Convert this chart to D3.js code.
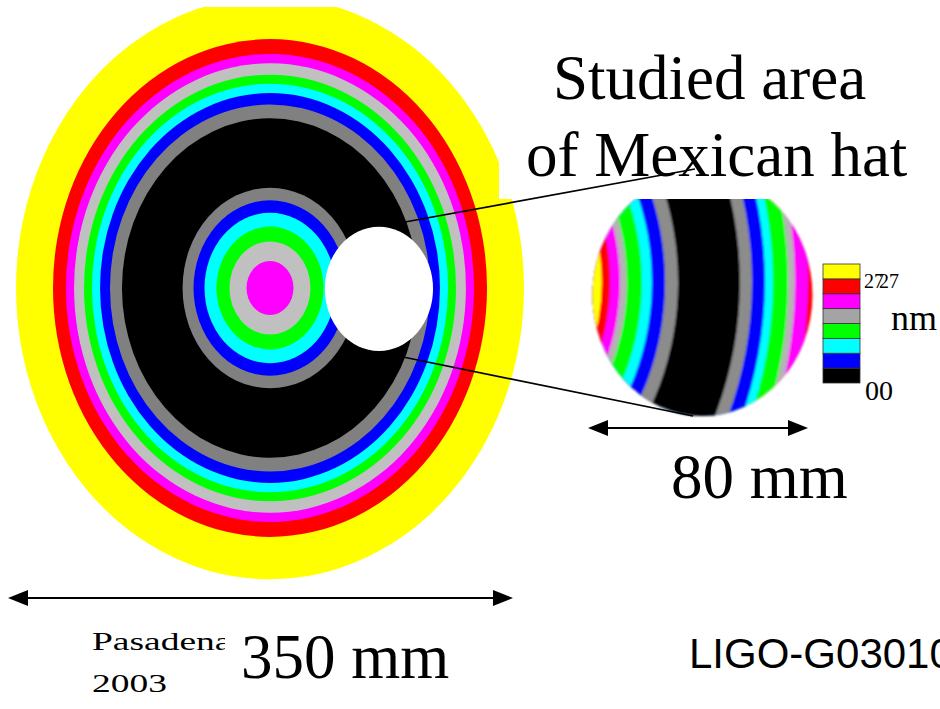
<!DOCTYPE html>
<html><head><meta charset="utf-8">
<script src="https://cdn.jsdelivr.net/npm/d3@7"></script>
<style>html,body{margin:0;padding:0;background:#fff;overflow:hidden}</style>
</head><body>
<svg id="chart" width="940" height="709"></svg>
<script>
// ---------- data ----------
// contour colours, lowest level to highest level (0 -> 27 nm)
const legendColors = ["#000000","#0000ff","#00ffff","#00ff00","#a4a4a4","#ff00ff","#ff0000","#ffff00"];
const legendLabels = ["00", "27"];
const unitLabel = "nm";

// main mirror map (350 mm), outer radius (mm) of each contour band, centre outward
const mainBandOuterMM = [16.3, 28.1, 37.1, 45.4, 53.0, 60.6, 102.6, 110.9, 117.8, 123.4, 128.9, 135.8, 141.4, 150.4, 176];
const mainBandColors  = ["#ff00ff","#c0c0c0","#00ff00","#00ffff","#0000ff","#808080","#000000","#808080","#0000ff","#00ffff","#00ff00","#c0c0c0","#ff00ff","#ff0000","#ffff00"];
const studiedCenterMM = [75.5, 0.5];
const studiedRadiusMM = 37.5;

// inset (80 mm studied area), band outer radii (mm) around the pattern centre
const insetPatternCenterMM = [-99.1, -4.3];
const insetBandOuterMM = [62.5, 65.5, 69.1, 71.6, 77.1, 80.7, 85.5, 90.2, 112.7, 117.1, 121.8, 124.7, 130.2, 132.7, 137.5, 170];
const insetBandColors  = ["#ffff00","#ff0000","#ff00ff","#b4b4b4","#00ff00","#00ffff","#0000ff","#8c8c8c","#000000","#8c8c8c","#0000ff","#00ffff","#00ff00","#b4b4b4","#ff00ff","#ff0000"];

const titleLines = ["Studied area", "of Mexican hat"];
const mainSizeLabel = "350 mm";
const insetSizeLabel = "80 mm";
const footerLeft = ["Pasadena", "2003"];
const footerRight = "LIGO-G030106-00-D";

// ---------- drawing ----------
const svg = d3.select("#chart");
const serif = "'Liberation Serif','Times New Roman',Times,serif";
const sans = "'Liberation Sans',Arial,Helvetica,sans-serif";

const mainX = d3.scaleLinear().domain([-175, 175]).range([17.5, 522.5]);
const mainY = d3.scaleLinear().domain([-175, 175]).range([-1.6, 577.6]);

const defs = svg.append("defs");
defs.append("filter").attr("id", "soft").attr("x", "-5%").attr("y", "-5%").attr("width", "110%").attr("height", "110%")
  .append("feGaussianBlur").attr("stdDeviation", 0.9);

// main map
const mainBands = mainBandOuterMM.map((r, i) => ({r, c: mainBandColors[i]})).sort((a, b) => b.r - a.r);
svg.append("g").selectAll("ellipse").data(mainBands).join("ellipse")
  .attr("cx", mainX(0)).attr("cy", mainY(0))
  .attr("rx", d => mainX(d.r) - mainX(0))
  .attr("ry", d => mainY(d.r) - mainY(0))
  .attr("fill", d => d.c);

// inset map
const insetX = d3.scaleLinear().domain([-40, 40]).range([592.5, 812.5]);
const insetY = d3.scaleLinear().domain([-40, 40]).range([174, 416]);
defs.append("clipPath").attr("id", "insetClip").append("ellipse")
  .attr("cx", insetX(0)).attr("cy", insetY(0))
  .attr("rx", insetX(40) - insetX(0)).attr("ry", insetY(40) - insetY(0));
const insetBands = insetBandOuterMM.map((r, i) => ({r, c: insetBandColors[i]})).sort((a, b) => b.r - a.r);
svg.append("g").attr("filter", "url(#soft)")
  .append("g").attr("clip-path", "url(#insetClip)")
  .selectAll("ellipse").data(insetBands).join("ellipse")
  .attr("cx", insetX(insetPatternCenterMM[0])).attr("cy", insetY(insetPatternCenterMM[1]))
  .attr("rx", d => insetX(insetPatternCenterMM[0] + d.r) - insetX(insetPatternCenterMM[0]))
  .attr("ry", d => insetY(insetPatternCenterMM[1] + d.r) - insetY(insetPatternCenterMM[1]))
  .attr("fill", d => d.c);

// white background boxes of the slide texts
svg.append("rect").attr("x", 0).attr("y", 0).attr("width", 499).attr("height", 7).attr("fill", "#fff");
svg.append("rect").attr("x", 499).attr("y", 0).attr("width", 441).attr("height", 199).attr("fill", "#fff");

// studied area hole
svg.append("ellipse")
  .attr("cx", mainX(studiedCenterMM[0])).attr("cy", mainY(studiedCenterMM[1]))
  .attr("rx", mainX(studiedRadiusMM) - mainX(0)).attr("ry", mainY(studiedRadiusMM) - mainY(0))
  .attr("fill", "#fff");

// connector lines
const connectors = [[[405, 222], [695, 169]], [[403, 357], [693, 416]]];
svg.append("g").selectAll("line").data(connectors).join("line")
  .attr("x1", d => d[0][0]).attr("y1", d => d[0][1]).attr("x2", d => d[1][0]).attr("y2", d => d[1][1])
  .attr("stroke", "#000").attr("stroke-width", 1.7);

// arrows
function arrow(x1, x2, y) {
  const hl = 20, hw = 8;
  const g = svg.append("g");
  g.append("line").attr("x1", x1 + hl - 2).attr("x2", x2 - hl + 2).attr("y1", y).attr("y2", y)
    .attr("stroke", "#000").attr("stroke-width", 2.2);
  g.append("path").attr("d", `M${x1},${y}L${x1 + hl},${y - hw}L${x1 + hl},${y + hw}Z`).attr("fill", "#000");
  g.append("path").attr("d", `M${x2},${y}L${x2 - hl},${y - hw}L${x2 - hl},${y + hw}Z`).attr("fill", "#000");
}
arrow(8, 513, 598);
arrow(588, 808, 428);

// texts
svg.append("text").attr("x", 553).attr("y", 99).attr("font-family", serif).attr("font-size", 63).text(titleLines[0]);
svg.append("text").attr("x", 526).attr("y", 176).attr("font-family", serif).attr("font-size", 63).text(titleLines[1]);
svg.append("text").attr("x", 671).attr("y", 498).attr("font-family", serif).attr("font-size", 63).text(insetSizeLabel);
svg.append("text").attr("x", 241).attr("y", 678).attr("font-family", serif).attr("font-size", 63).text(mainSizeLabel);

defs.append("clipPath").attr("id", "footClip").append("rect").attr("x", 0).attr("y", 600).attr("width", 225).attr("height", 109);
const foot = svg.append("g").attr("clip-path", "url(#footClip)");
foot.append("text").attr("transform", "translate(92,650) scale(1.5,1)").attr("font-family", serif).attr("font-size", 25).text(footerLeft[0]);
foot.append("text").attr("transform", "translate(92,692) scale(1.5,1)").attr("font-family", serif).attr("font-size", 25).text(footerLeft[1]);

svg.append("text").attr("x", 689).attr("y", 668).attr("font-family", sans).attr("font-size", 42).text(footerRight);

// legend
const legY = d3.scaleBand().domain(d3.range(legendColors.length).reverse()).range([264, 383]);
svg.append("g").selectAll("rect").data(legendColors).join("rect")
  .attr("x", 823).attr("width", 37)
  .attr("y", (d, i) => legY(i)).attr("height", legY.bandwidth())
  .attr("fill", d => d).attr("stroke", "#333").attr("stroke-width", 0.8);
svg.append("text").attr("x", 864).attr("y", 288).attr("font-family", serif).attr("font-size", 20).text(legendLabels[1]);
svg.append("text").attr("x", 879).attr("y", 288).attr("font-family", serif).attr("font-size", 20).text(legendLabels[1]);
svg.append("text").attr("x", 865).attr("y", 400).attr("font-family", serif).attr("font-size", 28).text(legendLabels[0]);
svg.append("text").attr("x", 891).attr("y", 330).attr("font-family", serif).attr("font-size", 36).text(unitLabel);
</script>
</body></html>
